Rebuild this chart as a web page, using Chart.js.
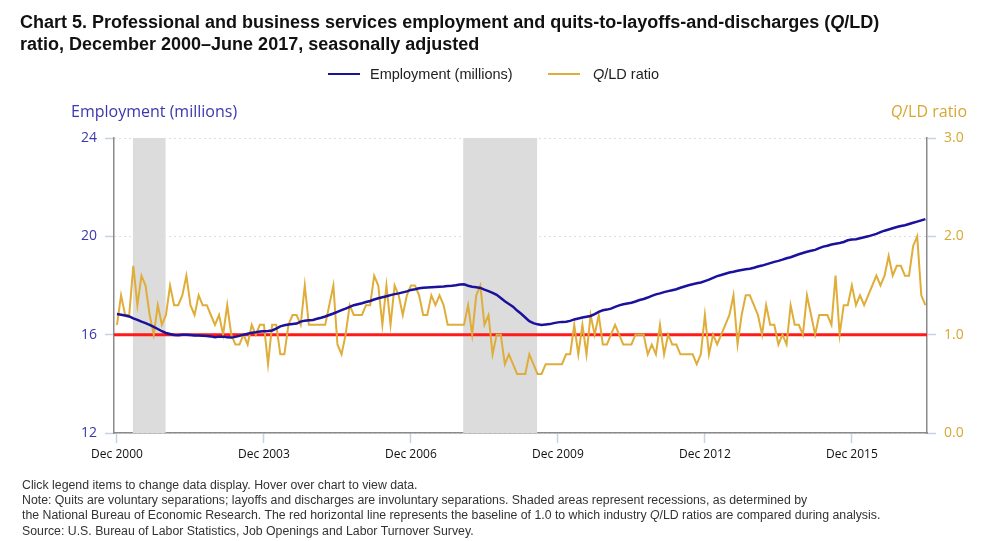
<!DOCTYPE html>
<html>
<head>
<meta charset="utf-8">
<script src="https://cdn.jsdelivr.net/npm/chart.js@4"></script>
<style>
  body { margin: 0; background: #fff; }
  #wrap { position: relative; width: 995px; height: 541px; overflow: hidden; }
  #chart { position: absolute; left: 0; top: 0; }
  .txt { position: absolute; white-space: nowrap; }
  #title { left: 20px; top: 11px; font: bold 18px "Liberation Sans", Arial, sans-serif; line-height: 22px; color: #111; }
  .leg { top: 66px; font: 14.5px "Liberation Sans", Arial, sans-serif; color: #222; }
  .legline { position: absolute; top: 73px; width: 32px; height: 2px; }
  .axt { top: 100px; font: 16px "Open Sans", sans-serif; }
  #notes { left: 22px; top: 478px; font: 12.3px "Liberation Sans", Arial, sans-serif; line-height: 15.2px; color: #333; }
</style>
</head>
<body>
<div id="wrap">
  <canvas id="chart" width="995" height="541"></canvas>
  <div id="title" class="txt">Chart 5. Professional and business services employment and quits-to-layoffs-and-discharges (<i>Q</i>/LD)<br>ratio, December 2000&ndash;June 2017, seasonally adjusted</div>
  <div class="legline" style="left:328px;background:#1a119c"></div>
  <div class="txt leg" style="left:370px">Employment (millions)</div>
  <div class="legline" style="left:548px;background:#dfad3a"></div>
  <div class="txt leg" style="left:593px"><i>Q</i>/LD ratio</div>
  <div class="txt axt" style="left:71px;color:#3b37b0">Employment (millions)</div>
  <div class="txt axt" style="right:28px;color:#d9a730"><i>Q</i>/LD ratio</div>
  <div id="notes" class="txt">Click legend items to change data display. Hover over chart to view data.<br>Note: Quits are voluntary separations; layoffs and discharges are involuntary separations. Shaded areas represent recessions, as determined by<br>the National Bureau of Economic Research. The red horizontal line represents the baseline of 1.0 to which industry <i>Q</i>/LD ratios are compared during analysis.<br>Source: U.S. Bureau of Labor Statistics, Job Openings and Labor Turnover Survey.</div>
</div>
<script>
// months since Dec 2000 (0 = Dec 2000 ... 198 = Jun 2017)
var tickMonths = [0, 36, 72, 108, 144, 180];
var tickLabels = ["Dec 2000", "Dec 2003", "Dec 2006", "Dec 2009", "Dec 2012", "Dec 2015"];

// recession periods, in months since Dec 2000
var recessions = [[3.9, 11.9], [84.8, 102.9]];
var baseline = 1.0;

var employment = [
  16.84, 16.81, 16.78, 16.74, 16.66, 16.60, 16.53, 16.47, 16.40, 16.32,
  16.23, 16.14, 16.07, 16.03, 15.99, 15.98, 16.00, 16.00, 15.99, 15.97,
  15.97, 15.96, 15.95, 15.93, 15.90, 15.92, 15.92, 15.89, 15.88, 15.91,
  15.95, 16.00, 16.04, 16.08, 16.10, 16.13, 16.14, 16.15, 16.17, 16.25,
  16.34, 16.38, 16.41, 16.43, 16.45, 16.53, 16.57, 16.59, 16.60, 16.65,
  16.69, 16.74, 16.80, 16.86, 16.93, 17.00, 17.06, 17.13, 17.20, 17.24,
  17.28, 17.33, 17.37, 17.43, 17.48, 17.52, 17.56, 17.61, 17.65, 17.68,
  17.72, 17.76, 17.82, 17.85, 17.89, 17.91, 17.92, 17.93, 17.94, 17.95,
  17.96, 17.98, 17.99, 18.01, 18.04, 18.05, 17.99, 17.95, 17.93, 17.90,
  17.83, 17.77, 17.70, 17.62, 17.49, 17.36, 17.25, 17.14, 16.98, 16.85,
  16.70, 16.55, 16.47, 16.42, 16.39, 16.41, 16.43, 16.47, 16.50, 16.52,
  16.53, 16.56, 16.62, 16.66, 16.70, 16.73, 16.76, 16.84, 16.93, 16.99,
  17.02, 17.06, 17.13, 17.19, 17.24, 17.27, 17.30, 17.35, 17.41, 17.45,
  17.51, 17.58, 17.64, 17.68, 17.73, 17.77, 17.81, 17.85, 17.91, 17.96,
  18.01, 18.05, 18.09, 18.12, 18.18, 18.24, 18.31, 18.38, 18.43, 18.48,
  18.53, 18.56, 18.60, 18.63, 18.66, 18.68, 18.72, 18.77, 18.81, 18.86,
  18.91, 18.96, 19.00, 19.05, 19.11, 19.15, 19.21, 19.27, 19.32, 19.37,
  19.41, 19.45, 19.52, 19.58, 19.62, 19.67, 19.70, 19.73, 19.77, 19.84,
  19.87, 19.88, 19.92, 19.96, 20.00, 20.05, 20.10, 20.17, 20.23, 20.28,
  20.33, 20.38, 20.42, 20.45, 20.50, 20.55, 20.60, 20.65, 20.70
];

var qldRatio = [
  1.1, 1.4, 1.2, 1.2, 1.7, 1.3, 1.6, 1.5, 1.2, 1.0,
  1.3, 1.1, 1.2, 1.5, 1.3, 1.3, 1.4, 1.6, 1.3, 1.2,
  1.4, 1.3, 1.3, 1.2, 1.1, 1.2, 1.0, 1.3, 1.0, 0.9,
  0.9, 1.0, 0.9, 1.1, 1.0, 1.1, 1.1, 0.7, 1.1, 1.1,
  0.8, 0.8, 1.1, 1.2, 1.2, 1.1, 1.5, 1.1, 1.1, 1.1,
  1.1, 1.1, 1.3, 1.5, 0.9, 0.8, 1.0, 1.3, 1.2, 1.2,
  1.2, 1.3, 1.3, 1.6, 1.5, 1.1, 1.5, 1.1, 1.5, 1.4,
  1.2, 1.4, 1.5, 1.5, 1.4, 1.2, 1.2, 1.4, 1.3, 1.4,
  1.3, 1.1, 1.1, 1.1, 1.1, 1.1, 1.3, 1.0, 1.4, 1.5,
  1.1, 1.2, 0.8, 1.0, 1.0, 0.7, 0.8, 0.7, 0.6, 0.6,
  0.6, 0.8, 0.7, 0.6, 0.6, 0.7, 0.7, 0.7, 0.7, 0.7,
  0.8, 0.8, 1.1, 0.8, 1.1, 0.8, 1.2, 1.0, 1.2, 0.9,
  0.9, 1.0, 1.1, 1.0, 0.9, 0.9, 0.9, 1.0, 1.0, 1.0,
  0.8, 0.9, 0.8, 1.1, 0.8, 1.0, 0.9, 0.9, 0.8, 0.8,
  0.8, 0.8, 0.7, 0.8, 1.2, 0.8, 1.0, 0.9, 1.0, 1.1,
  1.2, 1.4, 0.9, 1.2, 1.4, 1.4, 1.3, 1.2, 1.0, 1.3,
  1.1, 1.1, 0.9, 1.0, 0.9, 1.3, 1.1, 1.1, 1.0, 1.4,
  1.2, 1.0, 1.2, 1.2, 1.2, 1.1, 1.6, 1.0, 1.3, 1.3,
  1.5, 1.3, 1.4, 1.3, 1.4, 1.5, 1.6, 1.5, 1.6, 1.8,
  1.6, 1.7, 1.7, 1.6, 1.6, 1.9, 2.0, 1.4, 1.3
];

function toPoints(arr) {
    return arr.map(function (v, i) { return {x: i, y: v}; });
}

// shaded recessions + red baseline, under the data lines
var backdrop = {
    id: 'backdrop',
    beforeDatasetsDraw: function (chart) {
        var ctx = chart.ctx, area = chart.chartArea;
        var xs = chart.scales.x, yr = chart.scales.yRatio;
        ctx.save();
        ctx.fillStyle = '#dcdcdc';
        recessions.forEach(function (r) {
            var x0 = xs.getPixelForValue(r[0]), x1 = xs.getPixelForValue(r[1]);
            ctx.fillRect(x0, area.top, x1 - x0, area.bottom - area.top);
        });
        var yb = yr.getPixelForValue(baseline);
        ctx.strokeStyle = '#ff1a1a';
        ctx.lineWidth = 3;
        ctx.beginPath();
        ctx.moveTo(area.left, yb);
        ctx.lineTo(area.right, yb);
        ctx.stroke();
        ctx.restore();
    }
};

var tickFont = {family: '"Open Sans", sans-serif', size: 14};

new Chart(document.getElementById('chart'), {
    type: 'line',
    data: {
        datasets: [
            {
                label: 'Employment (millions)',
                data: toPoints(employment),
                yAxisID: 'yEmp',
                borderColor: '#1a119c',
                borderWidth: 2.5,
                pointRadius: 0,
                tension: 0
            },
            {
                label: 'Q/LD ratio',
                data: toPoints(qldRatio),
                yAxisID: 'yRatio',
                borderColor: '#dfad3a',
                borderWidth: 2,
                pointRadius: 0,
                tension: 0
            }
        ]
    },
    options: {
        responsive: false,
        animation: false,
        layout: {padding: {top: 138, left: 0, right: 0, bottom: 0}},
        plugins: {legend: {display: false}, tooltip: {enabled: false}},
        scales: {
            x: {
                type: 'linear',
                min: -0.73,
                max: 198.4,
                afterBuildTicks: function (s) {
                    s.ticks = tickMonths.map(function (v) { return {value: v}; });
                },
                afterFit: function (s) { s.height = 108; },
                ticks: {
                    callback: function (v) { return tickLabels[tickMonths.indexOf(v)]; },
                    color: '#111',
                    font: {family: '"Open Sans", sans-serif', size: 12},
                    padding: 4,
                    maxRotation: 0
                },
                grid: {drawOnChartArea: false, tickLength: 10, tickColor: '#c5d3e3', tickWidth: 1.5},
                border: {color: '#8a8a8a', width: 1.5}
            },
            yEmp: {
                position: 'left',
                min: 12,
                max: 24,
                afterBuildTicks: function (s) {
                    s.ticks = [12, 16, 20, 24].map(function (v) { return {value: v}; });
                },
                afterFit: function (s) { s.width = 114; },
                ticks: {color: '#3b37b0', font: tickFont, padding: 8},
                grid: {color: '#bdbdbd', tickColor: '#c5d3e3', tickLength: 9, tickWidth: 1.5, lineWidth: 1},
                border: {color: '#8a8a8a', width: 1.5, dash: [1, 4]}
            },
            yRatio: {
                position: 'right',
                min: 0,
                max: 3,
                afterBuildTicks: function (s) {
                    s.ticks = [0, 1, 2, 3].map(function (v) { return {value: v}; });
                },
                afterFit: function (s) { s.width = 68; },
                ticks: {
                    color: '#d9a730',
                    font: tickFont,
                    padding: 8,
                    callback: function (v) { return v.toFixed(1); }
                },
                grid: {drawOnChartArea: false, tickColor: '#c5d3e3', tickLength: 9, tickWidth: 1.5},
                border: {color: '#8a8a8a', width: 1.5}
            }
        }
    },
    plugins: [backdrop]
});
</script>
</body>
</html>
